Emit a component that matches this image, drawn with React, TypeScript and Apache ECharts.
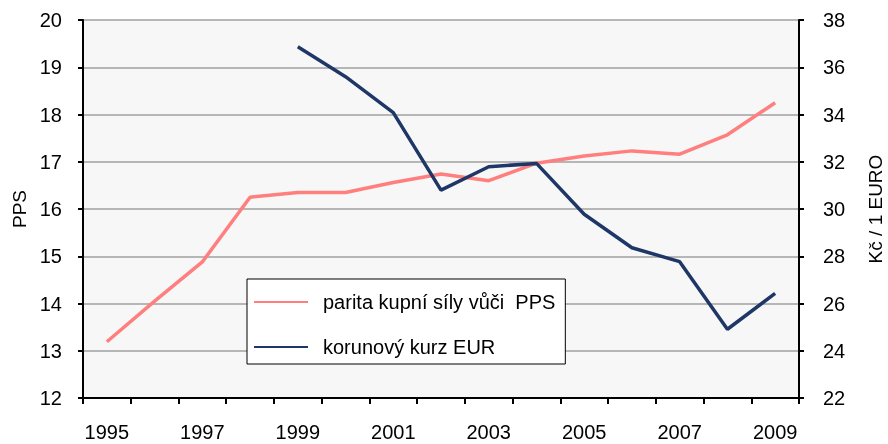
import React, { useEffect, useRef } from "react";
import * as echarts from "echarts";

const years = ["1995","1996","1997","1998","1999","2000","2001","2002","2003","2004","2005","2006","2007","2008","2009"];
const ppsParity = [13.19, 14.05, 14.88, 16.25, 16.35, 16.35, 16.56, 16.74, 16.6, 16.97, 17.12, 17.23, 17.16, 17.57, 18.25];
const eurRate = [null, null, null, null, 36.87, 35.6, 34.08, 30.8, 31.79, 31.93, 29.78, 28.36, 27.77, 24.91, 26.43];
const seriesNames = ["parita kupní síly vůči  PPS", "korunový kurz EUR"];
const leftAxisName = "PPS";
const rightAxisName = "Kč / 1 EURO";

const FONT = "'Liberation Sans', Arial, sans-serif";

export default function App() {
  const ref = useRef<HTMLDivElement>(null);
  useEffect(() => {
    const chart = echarts.init(ref.current!, null, { renderer: "svg" });
    chart.setOption({
      animation: false,
      textStyle: { fontFamily: FONT, color: "#000" },
      grid: {
        left: 83, right: 89, top: 20, bottom: 46,
        containLabel: false,
        outerBoundsMode: "none",
        show: true, backgroundColor: "#f7f7f7", borderWidth: 0,
      },
      legend: {
        orient: "vertical",
        left: 247, top: 279,
        padding: [13, 10, 7, 7],
        itemGap: 25,
        itemWidth: 54, itemHeight: 2,
        icon: "rect",
        backgroundColor: "#fff",
        borderColor: "#000", borderWidth: 1,
        textStyle: { fontSize: 20, color: "#000", fontFamily: FONT, padding: [0, 0, 0, 10], lineHeight: 20 },
        data: seriesNames,
      },
      xAxis: {
        type: "category",
        data: years,
        boundaryGap: true,
        axisLine: { show: true, lineStyle: { color: "#000", width: 2 } },
        axisTick: { show: true, interval: 0, length: 6, lineStyle: { color: "#000", width: 2 } },
        axisLabel: { interval: 1, fontSize: 20, color: "#000", margin: 24, fontFamily: FONT },
        splitLine: { show: false },
      },
      yAxis: [
        {
          type: "value", min: 12, max: 20, interval: 1, position: "left",
          name: leftAxisName, nameLocation: "middle", nameRotate: 90, nameGap: 51,
          nameTextStyle: { fontSize: 19, color: "#000", fontFamily: FONT },
          axisLine: { show: true, lineStyle: { color: "#000", width: 2 } },
          axisTick: { show: true, length: 5, lineStyle: { color: "#000", width: 2 } },
          axisLabel: { fontSize: 20, color: "#000", margin: 21, fontFamily: FONT },
          splitLine: { show: true, lineStyle: { color: "#a0a0a0", width: 1.5 } },
        },
        {
          type: "value", min: 22, max: 38, interval: 2, position: "right",
          name: rightAxisName, nameLocation: "middle", nameRotate: 90, nameGap: 67,
          nameTextStyle: { fontSize: 19, color: "#000", fontFamily: FONT },
          axisLine: { show: true, lineStyle: { color: "#000", width: 2 } },
          axisTick: { show: true, length: 5, lineStyle: { color: "#000", width: 2 } },
          axisLabel: { fontSize: 20, color: "#000", margin: 24, fontFamily: FONT },
          splitLine: { show: false },
        },
      ],
      series: [
        {
          name: seriesNames[0], type: "line", yAxisIndex: 0, data: ppsParity,
          symbol: "none", showSymbol: false,
          lineStyle: { color: "#ff7f7f", width: 3.5 }, itemStyle: { color: "#ff7f7f" },
        },
        {
          name: seriesNames[1], type: "line", yAxisIndex: 1, data: eurRate,
          symbol: "none", showSymbol: false,
          lineStyle: { color: "#1f3767", width: 3.5 }, itemStyle: { color: "#1f3767" },
        },
      ],
    });
    return () => chart.dispose();
  }, []);
  return <div ref={ref} style={{ position: "fixed", left: 0, top: 0, width: 888, height: 444 }} />;
}
